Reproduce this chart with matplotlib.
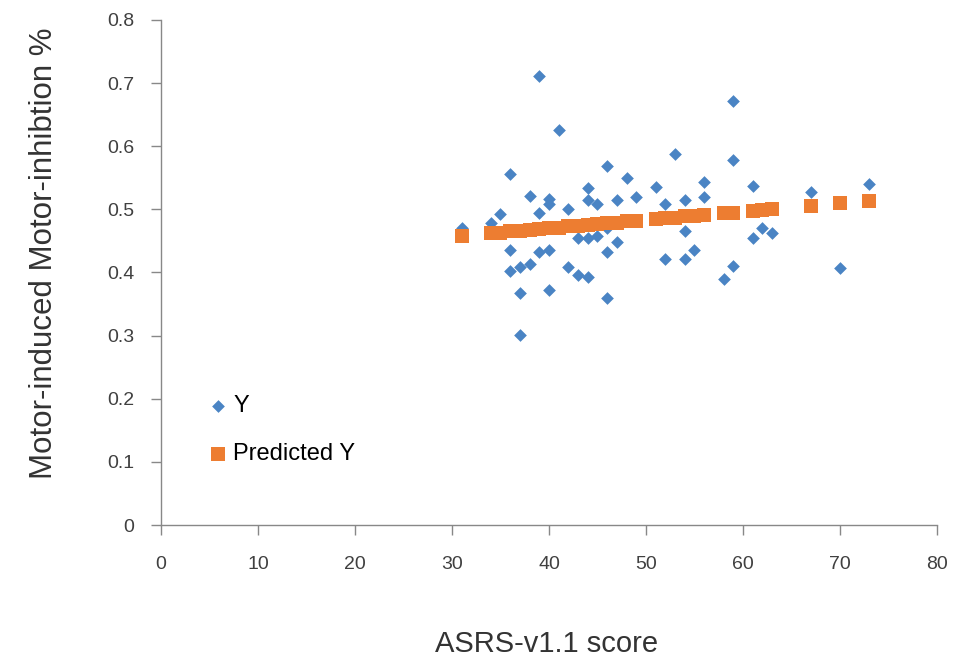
import matplotlib
matplotlib.use("Agg")
import matplotlib.pyplot as plt

plt.rcParams['font.family'] = ['Liberation Sans', 'DejaVu Sans']

# observed scores / inhibition
asrs = [31, 34, 35, 36, 36, 36, 37, 37, 37, 38, 38, 39, 39, 39, 40, 40, 40, 40,
        41, 42, 42, 43, 43, 44, 44, 44, 44, 45, 45, 46, 46, 46, 46, 47, 47, 48,
        49, 51, 52, 52, 53, 54, 54, 54, 55, 56, 56, 58, 59, 59, 59, 61, 61, 62,
        63, 67, 70, 73]
inhib = [0.470, 0.479, 0.493, 0.556, 0.435, 0.403, 0.408, 0.368, 0.301, 0.521,
         0.414, 0.712, 0.494, 0.433, 0.516, 0.509, 0.435, 0.372, 0.625, 0.500,
         0.408, 0.454, 0.396, 0.534, 0.515, 0.454, 0.393, 0.509, 0.458, 0.569,
         0.432, 0.359, 0.470, 0.515, 0.449, 0.549, 0.519, 0.535, 0.509, 0.422,
         0.587, 0.515, 0.466, 0.422, 0.435, 0.544, 0.520, 0.390, 0.672, 0.578,
         0.410, 0.537, 0.454, 0.470, 0.463, 0.528, 0.407, 0.540]

# predicted values (trend line squares)
pred_x = [31, 34, 35, 36, 37, 38, 39, 40, 41, 42, 43, 44, 45, 46, 47, 48, 49,
          51, 52, 53, 54, 55, 56, 58, 59, 61, 62, 63, 67, 70, 73]
pred_y = [0.458, 0.462, 0.463, 0.465, 0.466, 0.467, 0.469, 0.470, 0.471, 0.473,
          0.474, 0.475, 0.477, 0.478, 0.479, 0.481, 0.482, 0.485, 0.486, 0.487,
          0.489, 0.490, 0.491, 0.494, 0.495, 0.498, 0.499, 0.500, 0.506, 0.510,
          0.514]

blue = '#4a84c4'
orange = '#ed7d31'

fig = plt.figure(figsize=(9.55, 6.57), dpi=100)
ax = fig.add_axes([0.1686, 0.2009, 0.8125, 0.7687])

ax.scatter(asrs, inhib, marker='D', s=42, color=blue, linewidths=0, label='Y', zorder=3)
ax.scatter(pred_x, pred_y, marker='s', s=90, color=orange, linewidths=0,
           label='Predicted Y', zorder=4)

ax.set_xlim(0, 80)
ax.set_ylim(0, 0.8)
ax.set_xticks(range(0, 81, 10))
ax.set_yticks([i / 10 for i in range(9)])
ax.set_yticklabels(['0', '0.1', '0.2', '0.3', '0.4', '0.5', '0.6', '0.7', '0.8'])

for s in ['top', 'right']:
    ax.spines[s].set_visible(False)
for s in ['left', 'bottom']:
    ax.spines[s].set_color('#888888')
    ax.spines[s].set_linewidth(1.0)
ax.tick_params(colors='#888888', labelcolor='#404040', labelsize=14, length=7, width=1)
ax.tick_params(axis='y', pad=12)
ax.tick_params(axis='x', pad=15)

ax.set_xlabel('ASRS-v1.1 score', fontsize=21, color='#333333')
ax.set_ylabel('Motor-induced Motor-inhibtion %', fontsize=22.5, color='#333333')
ax.xaxis.set_label_coords(0.497, -0.208)
ax.yaxis.set_label_coords(-0.132, 0.539)

leg = ax.legend(loc='upper left', bbox_to_anchor=(0.049, 0.276), frameon=False,
                fontsize=17, labelspacing=1.1, handlelength=0.8,
                handletextpad=0.25, borderaxespad=0)

fig.savefig('out.png', dpi=100)
